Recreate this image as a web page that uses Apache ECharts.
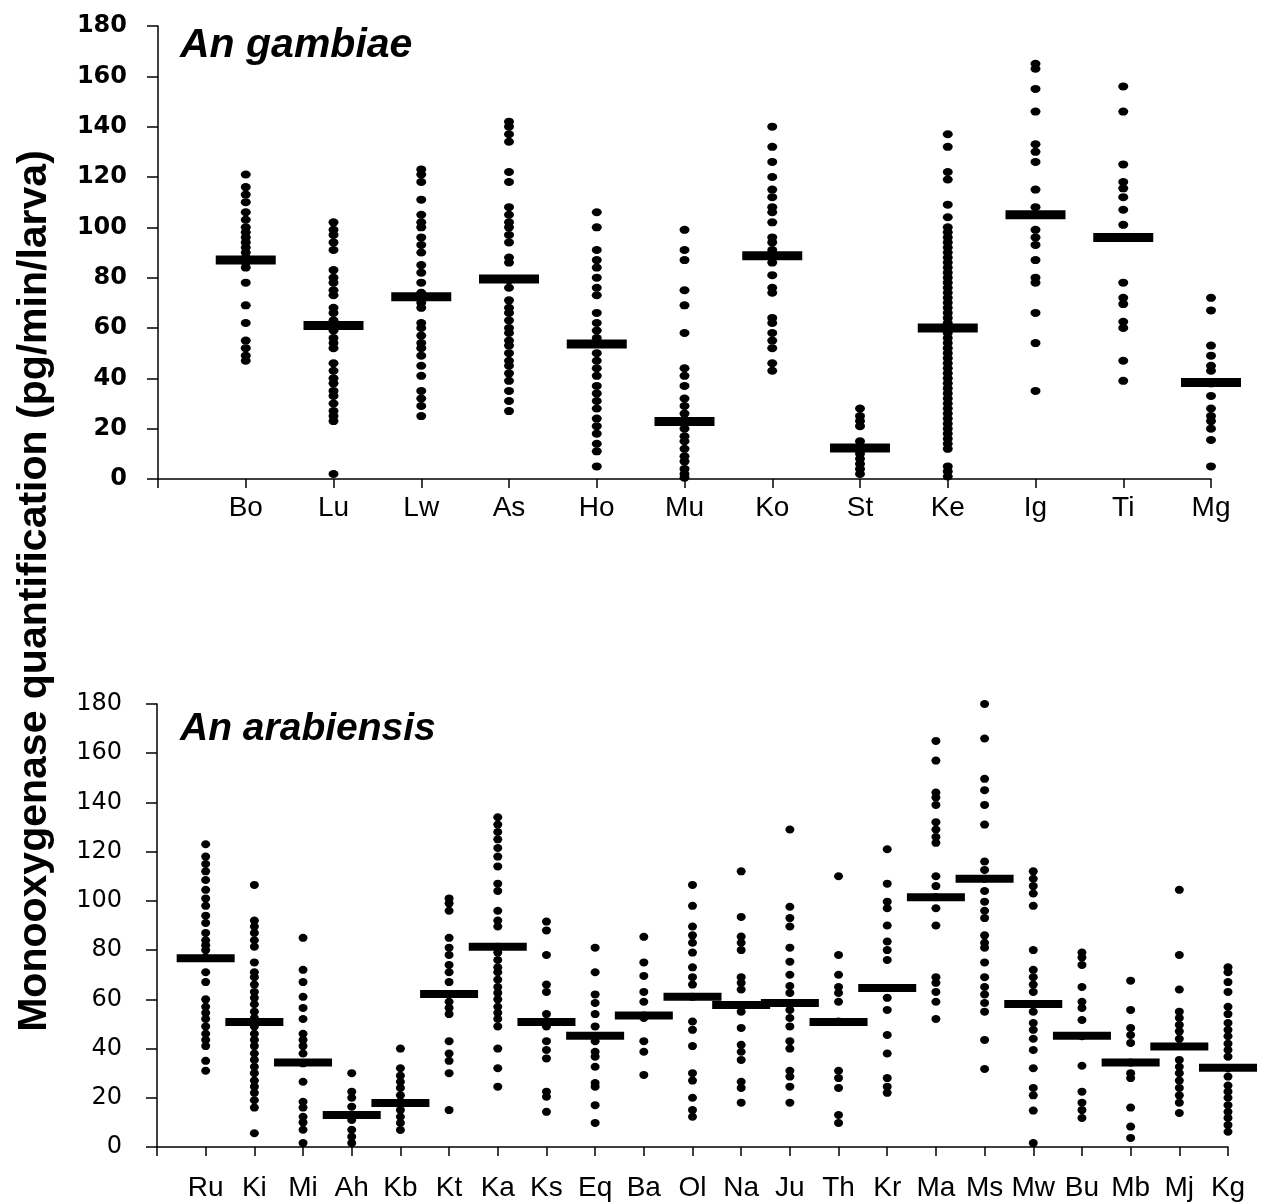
<!DOCTYPE html>
<html>
<head>
<meta charset="utf-8">
<title>Monooxygenase quantification</title>
<script src="https://cdn.jsdelivr.net/npm/echarts@6/dist/echarts.min.js"></script>
<style>
    html, body { margin: 0; padding: 0; background: #fff; }
    #main { width: 1267px; height: 1203px; }
</style>
</head>
<body>
<div id="main"></div>
<script>
/* An gambiae sites (top panel) */
var gambiaeSites = ['Bo', 'Lu', 'Lw', 'As', 'Ho', 'Mu', 'Ko', 'St', 'Ke', 'Ig', 'Ti', 'Mg'];
var gambiaeMedians = [87, 61, 72.4, 79.5, 53.6, 22.8, 88.7, 12.3, 60, 105, 96, 38.3];
var gambiaeValues = [
    [121, 116, 113, 110, 106, 103, 100, 98, 96, 94, 92, 90, 88, 86, 84, 78, 69, 62, 55, 52, 49, 47],
    [102, 99, 97, 94, 91, 83, 80, 78, 75, 73, 68, 66, 63, 61, 59, 56, 54, 52, 46, 43, 40, 38, 35, 33, 30, 27, 25, 23, 2],
    [123, 121, 118, 111, 105, 102, 100, 96, 93, 90, 85, 82, 78, 74, 72, 70, 68, 62, 60, 57, 54, 52, 49, 45, 41, 35, 32, 29, 25],
    [142, 140, 137, 134, 122, 118, 108, 105, 102, 100, 97, 94, 88, 86, 79, 76, 71, 68, 66, 63, 60, 58, 55, 53, 50, 47, 45, 42, 39, 35, 31, 27],
    [106, 100, 91, 87, 84, 80, 76, 73, 66, 62, 59, 56, 54, 50, 47, 44, 41, 37, 34, 31, 28, 24, 21, 18, 14, 11, 5],
    [99, 91, 87, 75, 69, 58, 44, 41, 37, 32, 29, 26, 23, 20, 17, 15, 12, 9, 7, 4, 2, 0.5],
    [140, 132, 126, 120, 115, 112, 108, 106, 102, 96, 94, 91, 89, 86, 81, 76, 74, 64, 62, 58, 55, 52, 46, 43],
    [28, 25, 23, 21, 15, 13, 12, 10, 8, 6, 4, 2],
    [137, 132, 122, 119, 109, 104, 100, 98, 96, 94, 92, 90, 88, 86, 84, 82, 80, 78, 76, 74, 72, 70, 68, 66, 64, 62, 60, 58, 56, 54, 52, 50, 48, 46, 44, 42, 40, 38, 36, 34, 32, 30, 28, 26, 24, 22, 20, 18, 16, 14, 12, 5, 3, 1],
    [165, 163, 155, 146, 133, 130, 126, 115, 108, 105, 99, 96, 93, 87, 80, 78, 66, 54, 35],
    [156, 146, 125, 118, 115.5, 112, 107, 101, 96, 78, 72, 69.5, 62.5, 60, 47, 39],
    [72, 67, 53, 49, 45, 43, 38, 33, 28, 25, 23, 20, 15.5, 5]
];

/* An arabiensis sites (bottom panel) */
var arabiensisSites = ['Ru', 'Ki', 'Mi', 'Ah', 'Kb', 'Kt', 'Ka', 'Ks', 'Eq', 'Ba', 'Ol', 'Na', 'Ju', 'Th', 'Kr', 'Ma', 'Ms', 'Mw', 'Bu', 'Mb', 'Mj', 'Kg'];
var arabiensisMedians = [76.7, 50.8, 34.3, 13, 17.9, 62.2, 81.4, 50.8, 45.2, 53.4, 61, 57.7, 58.5, 50.8, 64.6, 101.5, 109, 58.1, 45.2, 34.3, 40.8, 32.2];
var arabiensisValues = [
    [123, 118, 115, 112, 108.5, 104.5, 101, 98, 94, 91, 87, 84, 82, 80, 77, 71, 67, 60, 57, 54.5, 52, 49, 46, 43.5, 41, 35, 31],
    [106.5, 92, 89.6, 87, 84, 81.4, 75, 71, 69, 66, 63, 60.6, 58, 55, 52.4, 51, 49, 46, 43.5, 41, 38, 35.4, 32.6, 30, 27, 24.5, 22, 19, 16, 5.6],
    [85, 72, 67, 61, 56.5, 52, 46, 43.5, 41, 38, 34, 26.5, 18.4, 16, 12.3, 10, 7, 1.6],
    [30, 22.5, 20, 16.4, 13, 11, 7, 4.2, 1.6],
    [40, 32, 29, 26.5, 24, 21, 18, 15, 12.3, 9.8, 6.9],
    [101, 99, 96, 85, 81, 78, 74, 71, 67, 62, 59, 56.5, 54, 43, 38, 35, 30, 15],
    [134, 131, 128, 125, 121.5, 118, 114, 107, 104, 96, 92, 89.6, 81.4, 79, 76, 73, 71, 68, 65, 62.6, 60, 57, 54.5, 52, 49, 40, 32, 24.5],
    [91.6, 88, 78, 66, 63, 54, 51, 49, 43, 39.4, 36, 22.5, 20.4, 14.3],
    [81, 71, 62, 58.5, 54, 49, 45, 43, 38.7, 36.7, 32.6, 26, 24.5, 17, 9.8],
    [85.4, 75, 69.5, 63, 59, 53.4, 52.4, 43, 38.7, 29.3],
    [106.5, 98, 89.6, 86, 83, 79, 73, 69, 66, 61, 51, 47.6, 41, 30, 27, 20, 15, 12.3],
    [112, 93.5, 85.5, 83, 80, 69, 66.7, 64, 57.7, 55, 48.4, 41.5, 38.7, 35.4, 26.5, 24, 18],
    [129, 97.6, 93, 89.6, 81, 75.3, 70, 65.4, 62.6, 58.5, 55.7, 52.4, 49, 43, 40, 31, 28.6, 24.5, 18],
    [110, 78, 70, 65, 62.6, 59, 51, 31, 28, 24, 13, 9.8],
    [121, 107, 99.7, 97, 90, 83.5, 80, 76, 64.6, 60.6, 55.7, 45.5, 38, 28, 24.5, 22],
    [165, 157, 144, 142, 139, 132, 129, 126, 123.6, 110, 106, 101.5, 97, 90, 69, 66.7, 63, 59, 52],
    [180, 166, 149.6, 145, 139, 131, 116, 112.6, 109, 104, 99.7, 96, 93, 86, 83, 81, 75, 69, 65, 62, 58.5, 55, 43.5, 31.7],
    [112, 109, 106, 103, 98, 80, 72, 69, 66, 63, 58, 55, 50.4, 47.6, 44, 39.4, 32, 24, 21, 14.8, 1.6],
    [79, 77, 74, 65, 59, 56.5, 51.6, 45, 33, 22.5, 18, 15, 11.8],
    [67.6, 55.7, 48.4, 45.5, 42.3, 34.3, 30, 28, 16, 8.3, 3.7],
    [104.5, 78, 64, 55, 52.4, 49.6, 47, 44, 41, 35.4, 32.6, 30, 27, 24, 21, 18, 13.8],
    [73, 71, 67, 63, 57, 54, 50.4, 47.6, 45, 42, 39.4, 36.7, 32, 28.6, 25, 22.5, 20, 17, 14.3, 11.8, 8.9, 6.2]
];

var yMin = 0, yMax = 180, yStep = 20;

// [site position, value] pairs for the scatter
function toPoints(values) {
    var pts = [];
    values.forEach(function (col, i) {
        col.forEach(function (v) { pts.push([i + 1, v]); });
    });
    return pts;
}
function toMedians(medians) {
    return medians.map(function (m, i) { return [i + 1, m]; });
}

var main = document.getElementById('main');
var myChart = echarts.init(main);

var font = 'Liberation Sans, Arial, sans-serif';

function xAxisFor(sites, gridIndex, margin) {
    return {
        gridIndex: gridIndex,
        type: 'value',
        min: 0,
        max: sites.length,
        interval: 1,
        splitLine: { show: false },
        axisLine: { lineStyle: { color: '#000', width: 1.5 } },
        axisTick: { length: 9, lineStyle: { color: '#000', width: 1.5 } },
        axisLabel: {
            margin: margin,
            fontFamily: font,
            fontSize: 28,
            color: '#000',
            formatter: function (v) { return sites[v - 1] || ''; }
        }
    };
}
function yAxisFor(gridIndex, bold, margin) {
    return {
        gridIndex: gridIndex,
        type: 'value',
        min: yMin,
        max: yMax,
        interval: yStep,
        splitLine: { show: false },
        axisLine: { show: true, lineStyle: { color: '#000', width: 1.5 } },
        axisTick: { show: true, length: 11, lineStyle: { color: '#000', width: 1.5 } },
        axisLabel: {
            margin: margin,
            fontFamily: 'DejaVu Sans, sans-serif',
            fontSize: 24,
            fontWeight: bold ? 'bold' : 'normal',
            color: '#000'
        }
    };
}

var option = {
    backgroundColor: '#fff',
    animation: false,
    grid: [
        { left: 158, top: 26, width: 1053, height: 453 },
        { left: 157, top: 704, width: 1071, height: 443 }
    ],
    xAxis: [
        xAxisFor(gambiaeSites, 0, 15),
        xAxisFor(arabiensisSites, 1, 27)
    ],
    yAxis: [
        yAxisFor(0, true, 31),
        yAxisFor(1, false, 35)
    ],
    graphic: [
        {
            type: 'text', x: 180, y: 46,
            style: { text: 'An gambiae', font: 'italic bold 41px Liberation Sans, Arial, sans-serif', fill: '#000', textVerticalAlign: 'middle' }
        },
        {
            type: 'text', x: 180, y: 729,
            style: { text: 'An arabiensis', font: 'italic bold 39px Liberation Sans, Arial, sans-serif', fill: '#000', textVerticalAlign: 'middle' }
        },
        {
            type: 'text', x: 35, y: 591, rotation: Math.PI / 2,
            style: {
                text: 'Monooxygenase quantification (pg/min/larva)',
                font: 'bold 41px Liberation Sans Narrow, Arial Narrow, sans-serif',
                fill: '#000', textAlign: 'center', textVerticalAlign: 'middle'
            }
        }
    ],
    series: [
        {
            type: 'scatter', xAxisIndex: 0, yAxisIndex: 0,
            symbol: 'circle', symbolSize: [10, 8],
            itemStyle: { color: '#000', opacity: 1 },
            data: toPoints(gambiaeValues)
        },
        {
            type: 'scatter', xAxisIndex: 0, yAxisIndex: 0,
            symbol: 'rect', symbolSize: [60, 9],
            itemStyle: { color: '#000', opacity: 1 },
            z: 3,
            data: toMedians(gambiaeMedians)
        },
        {
            type: 'scatter', xAxisIndex: 1, yAxisIndex: 1,
            symbol: 'circle', symbolSize: [9, 8],
            itemStyle: { color: '#000', opacity: 1 },
            data: toPoints(arabiensisValues)
        },
        {
            type: 'scatter', xAxisIndex: 1, yAxisIndex: 1,
            symbol: 'rect', symbolSize: [58, 8],
            itemStyle: { color: '#000', opacity: 1 },
            z: 3,
            data: toMedians(arabiensisMedians)
        }
    ]
};

window.onresize = function () {
    myChart.resize();
};
myChart.setOption(option);
</script>
</body>
</html>
